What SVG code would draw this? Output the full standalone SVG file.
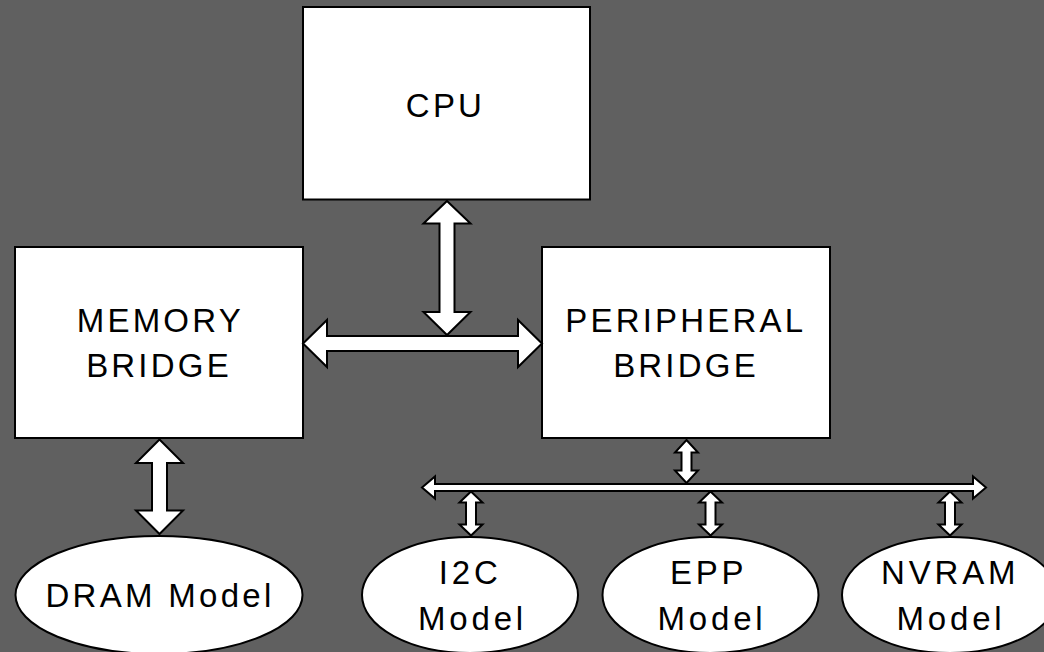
<svg xmlns="http://www.w3.org/2000/svg" width="1044" height="652" viewBox="0 0 1044 652">
<style>
.bg{fill:#606060}
.box{fill:#fff;stroke:#000;stroke-width:2}
.arrow{fill:#fff;stroke:#000;stroke-width:2;stroke-linejoin:miter}
.t{font-family:"Liberation Sans",Arial,sans-serif;font-size:33px;letter-spacing:3.2px;fill:#000;text-anchor:middle}
.te{font-family:"Liberation Sans",Arial,sans-serif;font-size:33px;letter-spacing:3.8px;fill:#000;text-anchor:middle}
</style>
<rect class="bg" x="0" y="0" width="1044" height="652"/>
<g id="cpu">
<rect class="box" x="303" y="7" width="287" height="192.5"/>
<text class="t" x="445.5" y="116.5">CPU</text>
</g>
<g id="memory-bridge">
<rect class="box" x="15" y="247" width="288" height="191"/>
<text class="t" x="160.3" y="332">MEMORY</text>
<text class="t" x="159" y="377">BRIDGE</text>
</g>
<g id="peripheral-bridge">
<rect class="box" x="542" y="247" width="288" height="191"/>
<text class="t" x="685.8" y="332">PERIPHERAL</text>
<text class="t" x="686" y="377">BRIDGE</text>
</g>
<g id="dram-model">
<ellipse class="box" cx="159" cy="595" rx="143.5" ry="59"/>
<text class="t" x="160" y="607" style="letter-spacing:3.3px">DRAM Model</text>
</g>
<g id="i2c-model">
<ellipse class="box" cx="470" cy="595" rx="108" ry="58"/>
<text class="te" x="470.2" y="583.5">I2C</text>
<text class="te" x="472.5" y="629.5">Model</text>
</g>
<g id="epp-model">
<ellipse class="box" cx="710.5" cy="595" rx="108" ry="58"/>
<text class="te" x="708.6" y="583.5">EPP</text>
<text class="te" x="712" y="629.5">Model</text>
</g>
<g id="nvram-model">
<ellipse class="box" cx="950" cy="595" rx="108" ry="58"/>
<text class="te" x="950.2" y="583.5">NVRAM</text>
<text class="te" x="951" y="629.5">Model</text>
</g>
<g id="connectors">
<polygon class="arrow" points="447,201 470.5,223.5 454.5,223.5 454.5,312 470.5,312 447,335 423.5,312 439.5,312 439.5,223.5 423.5,223.5"/>
<polygon class="arrow" points="303,343.5 327,320 327,336 518,336 518,320 542,343.5 518,367 518,351 327,351 327,367"/>
<polygon class="arrow" points="159.5,439.5 183,463 167,463 167,510.5 183,510.5 159.5,534 136,510.5 152,510.5 152,463 136,463"/>
<polygon class="arrow" points="686.5,440 698,452.5 691.5,452.5 691.5,470.5 698,470.5 686.5,483 675,470.5 681.5,470.5 681.5,452.5 675,452.5"/>
<polygon class="arrow" points="422,487.5 435,476.5 435,484 973,484 973,476.5 986,487.5 973,498.5 973,491 435,491 435,498.5"/>
<polygon class="arrow" points="471,491.5 482.5,502.5 476,502.5 476,524.5 482.5,524.5 471,535.5 459.5,524.5 466,524.5 466,502.5 459.5,502.5"/>
<polygon class="arrow" points="710.5,491.5 722,502.5 715.5,502.5 715.5,524.5 722,524.5 710.5,535.5 699,524.5 705.5,524.5 705.5,502.5 699,502.5"/>
<polygon class="arrow" points="950,491.5 961.5,502.5 955,502.5 955,524.5 961.5,524.5 950,535.5 938.5,524.5 945,524.5 945,502.5 938.5,502.5"/>
</g>
</svg>
